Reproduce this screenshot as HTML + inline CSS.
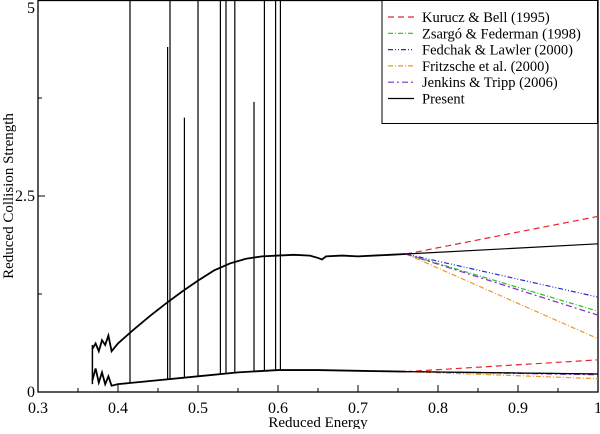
<!DOCTYPE html>
<html><head><meta charset="utf-8"><style>
body{margin:0;background:#fff;}
svg text{font-family:"Liberation Serif",serif;fill:#000;}
</style></head><body>
<svg id="c" width="600" height="429"></svg>
<script>
const xTicks=[0.3,0.4,0.5,0.6,0.7,0.8,0.9,1];
const xTickLabels=["0.3","0.4","0.5","0.6","0.7","0.8","0.9","1"];
const yTicks=[0,2.5,5];
const yTickLabels=["0","2.5","5"];
const upperX=[0.368,0.372,0.376,0.38,0.384,0.388,0.392,0.4,0.42,0.44,0.46,0.48,0.5,0.52,0.54,0.56,0.58,0.6,0.62,0.64,0.65,0.655,0.66,0.68,0.7,0.72,0.74,0.76];
const upperY=[0.55,0.62,0.52,0.66,0.6,0.72,0.52,0.62,0.8,0.97,1.13,1.28,1.42,1.55,1.64,1.7,1.73,1.74,1.75,1.74,1.71,1.69,1.73,1.74,1.73,1.74,1.75,1.76];
const lowerX=[0.368,0.372,0.376,0.38,0.384,0.388,0.392,0.4,0.45,0.5,0.55,0.6,0.65,0.7,0.76];
const lowerY=[0.15,0.3,0.12,0.25,0.1,0.2,0.08,0.1,0.15,0.2,0.25,0.28,0.28,0.27,0.26];
const spikeX=[0.415,0.462,0.465,0.483,0.5,0.528,0.535,0.546,0.57,0.583,0.597,0.603];
const spikeTop=[5,4.4,5,3.5,5,5,5,5,3.7,5,5,5];
const extX=[0.76,1.0];
const series=[
 {name:"Kurucz & Bell (1995)",color:"#e8262c",dash:"6,4",up:[1.76,2.24],lo:[0.26,0.41]},
 {name:"Zsargó & Federman (1998)",color:"#22c422",dash:"5,2,1,2",up:[1.76,1.03],lo:[0.26,0.23]},
 {name:"Fedchak & Lawler (2000)",color:"#2a2ad0",dash:"5,2,1,2,1,2",up:[1.76,1.21],lo:[0.26,0.23]},
 {name:"Fritzsche et al. (2000)",color:"#f0961e",dash:"5,2,1,2",up:[1.76,0.68],lo:[0.26,0.17]},
 {name:"Jenkins & Tripp (2006)",color:"#8a2bc8",dash:"6,3,2,3",up:[1.76,0.98],lo:[0.26,0.22]},
 {name:"Present",color:"#000",dash:"",up:[1.76,1.89],lo:[0.26,0.23]}
];
const L=38,R=598,T=0,B=392;
const sx=x=>L+(x-0.3)/0.7*(R-L);
const sy=v=>B-v/5*(B-T);
const svg=document.getElementById('c');
const NS="http://www.w3.org/2000/svg";
function mk(tag,attrs,parent){const e=document.createElementNS(NS,tag);for(const k in attrs)e.setAttribute(k,attrs[k]);(parent||svg).appendChild(e);return e;}
const fr=mk('rect',{x:L,y:T+0.5,width:R-L,height:B-T-0.5,fill:'none',stroke:'#000','stroke-width':1.3});


for(let i=0;i<xTicks.length;i++){
 const x=sx(xTicks[i]);
 const t=mk('line',{x1:x,x2:x,y1:B,y2:B-7,stroke:'#000'});
 
 
 if(i<xTicks.length-1){const m=sx(xTicks[i]+0.05);const mt=mk('line',{x1:m,x2:m,y1:B,y2:B-4,stroke:'#000'});
 
 }
 const lb=mk('text',{x:x,y:413,'text-anchor':'middle','font-size':16});lb.textContent=xTickLabels[i];
 
 
}
for(let i=0;i<yTicks.length;i++){
 const y=sy(yTicks[i]);
 const t=mk('line',{x1:L,x2:L+7,y1:y,y2:y,stroke:'#000'});
 
 
 if(i<yTicks.length-1){const m=sy(yTicks[i]+1.25);const mt=mk('line',{x1:L,x2:L+4,y1:m,y2:m,stroke:'#000'});
 
 }
 const lb=mk('text',{x:L-3,y:Math.max(y+5,13),'text-anchor':'end','font-size':16});lb.textContent=yTickLabels[i];
 
 
}
const xt=mk('text',{x:318,y:427,'text-anchor':'middle','font-size':15});xt.textContent="Reduced Energy";


const yt=mk('text',{x:13,y:196,'text-anchor':'middle','font-size':15,transform:'rotate(-90 13 196)'});yt.textContent="Reduced Collision Strength";


for(let i=0;i<spikeX.length;i++){
 const x=sx(spikeX[i]);
 let base=0.2;for(let j=0;j<lowerX.length-1;j++){if(spikeX[i]>=lowerX[j]&&spikeX[i]<=lowerX[j+1]){base=lowerY[j]+(lowerY[j+1]-lowerY[j])*(spikeX[i]-lowerX[j])/(lowerX[j+1]-lowerX[j]);}}
 const s=mk('line',{x1:x,x2:x,y1:sy(base),y2:sy(spikeTop[i]),stroke:'#000','stroke-width':1.2});
 
 
}
function poly(xs,ys,name){
 const p=mk('polyline',{points:xs.map((x,i)=>sx(x)+','+sy(ys[i])).join(' '),fill:'none',stroke:'#000','stroke-width':1.8});
 
 
}
poly(upperX,upperY,'present-upper-curve');
poly(lowerX,lowerY,'present-lower-curve');
const vs=mk('line',{x1:sx(0.368),x2:sx(0.368),y1:sy(0.6),y2:sy(0.1),stroke:'#000','stroke-width':1.5});


series.forEach(s=>{
 ['up','lo'].forEach(k=>{
  const l=mk('line',{x1:sx(extX[0]),y1:sy(s[k][0]),x2:sx(extX[1]),y2:sy(s[k][1]),stroke:s.color,'stroke-width':1.2,'stroke-dasharray':s.dash});
  
  
 });
});
const lg=mk('g',{});


mk('rect',{x:382,y:0.5,width:215.5,height:123,fill:'#fff',stroke:'#000'},lg);
series.forEach((s,i)=>{
 const y=17+i*16.3;
 const g=mk('g',{},lg);
 
 
 mk('line',{x1:388,x2:414,y1:y,y2:y,stroke:s.color,'stroke-width':1.2,'stroke-dasharray':s.dash},g);
 const t=mk('text',{x:422,y:y+5,'font-size':14.5},g);t.textContent=s.name;
});
</script>
</body></html>
